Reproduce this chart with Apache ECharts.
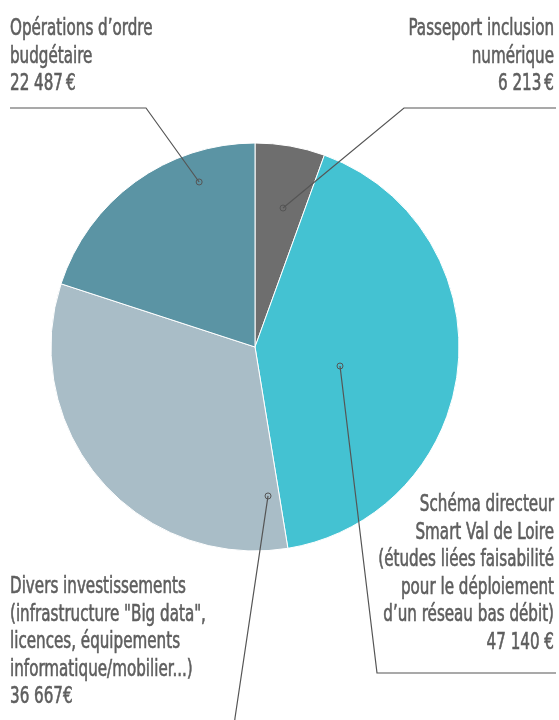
<!DOCTYPE html>
<html>
<head>
<meta charset="utf-8">
<script src="https://cdn.jsdelivr.net/npm/echarts@6/dist/echarts.min.js"></script>
<style>
    html, body { margin: 0; padding: 0; background: #fff; }
    #chart { width: 559px; height: 720px; }
</style>
</head>
<body>
<div id="chart"></div>
<script>
// slices, clockwise from 12 o'clock
const categories = [
    'Passeport inclusion\nnumérique',
    'Schéma directeur\nSmart Val de Loire\n(études liées faisabilité\npour le déploiement\nd\u2019un réseau bas débit)',
    'Divers investissements\n(infrastructure "Big data",\nlicences, équipements\ninformatique/mobilier...)',
    'Opérations d\u2019ordre\nbudgétaire'
];
const values = [6213, 47140, 36667, 22487];
const valueLabels = ['6 213\u202f€', '47 140 €', '36 667€', '22 487\u202f€'];

const palette = ['#6e6e6e', '#44c2d2', '#a9bdc7', '#5b94a4'];

// pie geometry (px)
const CX = 255, CY = 347, R = 204;

// label boxes and leader lines; anchor = [angle from 12 o'clock in deg, radius fraction]
const labelPlaces = [
    {x: 554, y: 15.5, align: 'right', anchor: [11.4, 0.695], corner: [404, 108], end: [556, 108]},
    {x: 554, y: 491.5, align: 'right', anchor: [102.6, 0.427], corner: [377, 673], end: [556, 673]},
    {x: 10, y: 573.5, align: 'left', anchor: [175, 0.733], corner: [235, 718], end: [232, 745]},
    {x: 10, y: 15.5, align: 'left', anchor: [341.3, 0.854], corner: [146, 108], end: [10, 108]}
];

const LINE_COLOR = '#555';
const TEXT_COLOR = '#5e5e5e';

function anchorPx(anchor) {
    const a = anchor[0] * Math.PI / 180;
    return [CX + R * anchor[1] * Math.sin(a), CY - R * anchor[1] * Math.cos(a)];
}

const graphics = [];
labelPlaces.forEach((p, i) => {
    const a = anchorPx(p.anchor);
    // leader line
    graphics.push({
        type: 'polyline',
        silent: true,
        z: 100,
        shape: {points: [a, p.corner, p.end]},
        style: {fill: null, stroke: LINE_COLOR, lineWidth: 1.2}
    });
    graphics.push({
        type: 'circle',
        silent: true,
        z: 101,
        shape: {cx: a[0], cy: a[1], r: 3},
        style: {fill: 'none', stroke: LINE_COLOR, lineWidth: 1}
    });
    // label text (squeezed horizontally to mimic a condensed face)
    graphics.push({
        type: 'text',
        silent: true,
        z: 102,
        x: p.x,
        y: p.y,
        scaleX: 0.732,
        style: {
            x: 0,
            y: 0,
            text: categories[i] + '\n' + valueLabels[i],
            font: '23px "DejaVu Sans Condensed", sans-serif',
            lineHeight: 27.5,
            fill: TEXT_COLOR,
            stroke: TEXT_COLOR,
            lineWidth: 0.6,
            align: p.align,
            verticalAlign: 'top'
        }
    });
});

const chart = echarts.init(document.getElementById('chart'));

chart.setOption({
    animation: false,
    series: [{
        type: 'pie',
        center: [CX, CY],
        radius: [0, R],
        startAngle: 90,
        clockwise: true,
        silent: true,
        itemStyle: {borderColor: '#fff', borderWidth: 1},
        color: palette,
        label: {show: false},
        labelLine: {show: false},
        data: values.map((v, i) => ({name: categories[i], value: v}))
    }],
    graphic: graphics
});
</script>
</body>
</html>
